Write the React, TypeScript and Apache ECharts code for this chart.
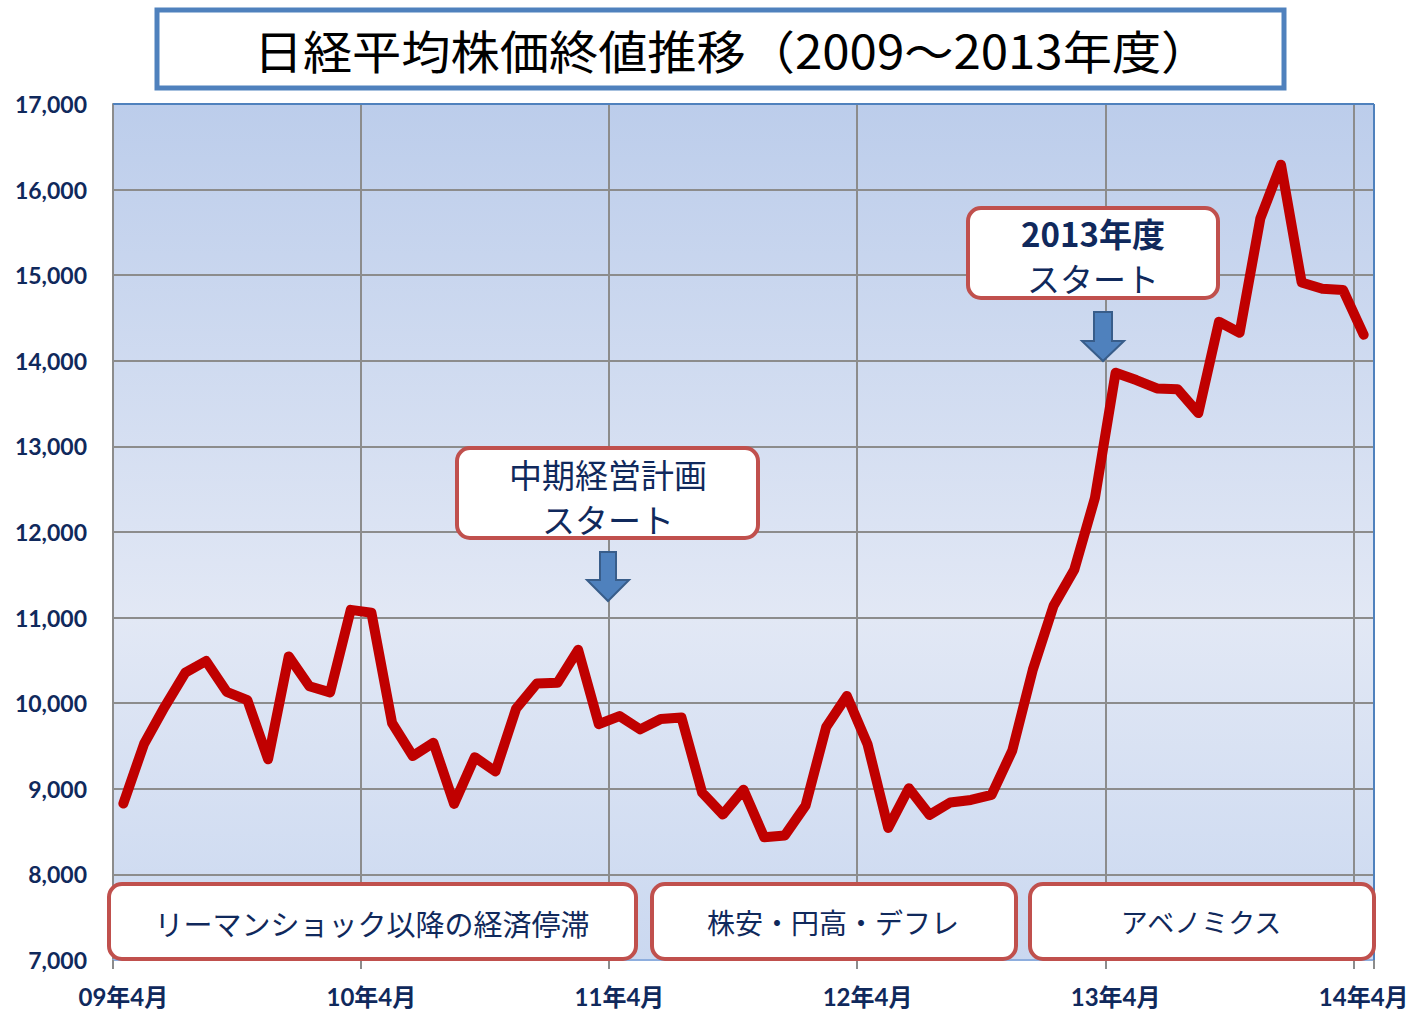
import React, { useEffect, useRef } from "react";
import * as echarts from "echarts";

// Month categories: Apr 2009 .. Apr 2014 (61 months)
const startYear = 2009;
const startMonth = 4;
const monthCount = 61;
const categories: string[] = [];
for (let i = 0; i < monthCount; i++) {
  const m0 = startMonth - 1 + i;
  const y = startYear + Math.floor(m0 / 12);
  const m = (m0 % 12) + 1;
  categories.push(String(y % 100).padStart(2, "0") + "年" + m + "月");
}

// Month-end closing values (yen)
const closeValues: number[] = [
  8828, 9523, 9958, 10357, 10493, 10133, 10035, 9346, 10546, 10198, 10126, 11090,
  11057, 9769, 9383, 9537, 8824, 9369, 9202, 9937, 10229, 10238, 10624, 9755,
  9850, 9694, 9816, 9833, 8955, 8700, 8988, 8435, 8455, 8803, 9723, 10084,
  9521, 8543, 9007, 8695, 8840, 8870, 8928, 9446, 10395, 11139, 11559, 12398,
  13861, 13775, 13677, 13668, 13389, 14456, 14328, 15662, 16291, 14915, 14841, 14828,
  14304,
];

const yMin = 7000;
const yMax = 17000;
const yStep = 1000;

const titleText = "日経平均株価終値推移（2009～2013年度）";
const note1Lines = ["中期経営計画", "スタート"];
const note2Lines = ["2013年度", "スタート"];
const periodLabels = ["リーマンショック以降の経済停滞", "株安・円高・デフレ", "アベノミクス"];

const NAVY = "#10295c";
const RED_BORDER = "#c0504d";
const CJK = "'Noto Sans CJK JP', 'Noto Sans', sans-serif";
const NUMFONT = "Lato, 'Noto Sans CJK JP', sans-serif";

function boxRect(x: number, y: number, w: number, h: number) {
  return {
    type: "rect",
    z: 10,
    shape: { x, y, width: w, height: h, r: 13 },
    style: { fill: "#ffffff", stroke: RED_BORDER, lineWidth: 4 },
  };
}

function label(
  text: string,
  x: number,
  y: number,
  size: number,
  weight: string = "normal",
  color: string = NAVY,
  font: string = CJK,
  scaleX: number = 1
) {
  return {
    type: "text",
    z: 11,
    x,
    y,
    scaleX,
    style: {
      text,
      fill: color,
      fontSize: size,
      fontWeight: weight,
      fontFamily: font,
      lineHeight: size,
      align: "center",
      verticalAlign: "middle",
    },
  };
}

function arrow(cx: number, top: number, headTop: number, tip: number, shaftHalf: number, headHalf: number) {
  return {
    type: "polygon",
    z: 10,
    shape: {
      points: [
        [cx - shaftHalf, top],
        [cx + shaftHalf, top],
        [cx + shaftHalf, headTop],
        [cx + headHalf, headTop],
        [cx, tip],
        [cx - headHalf, headTop],
        [cx - shaftHalf, headTop],
      ],
    },
    style: { fill: "#4f81bd", stroke: "#385d8a", lineWidth: 2 },
  };
}

export default function App() {
  const ref = useRef<HTMLDivElement>(null);

  useEffect(() => {
    document.body.style.margin = "0";
    if (!ref.current) return;
    const chart = echarts.init(ref.current, undefined, { renderer: "svg" });
    chart.setOption({
      animation: false,
      backgroundColor: "#ffffff",
      grid: {
        left: 113,
        top: 104,
        width: 1261,
        height: 856,
        show: true,
        borderWidth: 0,
        backgroundColor: {
          type: "linear",
          x: 0,
          y: 0,
          x2: 0,
          y2: 1,
          colorStops: [
            { offset: 0, color: "#bccdeb" },
            { offset: 0.6, color: "#e2e8f5" },
            { offset: 1, color: "#cad8f0" },
          ],
        },
      },
      xAxis: {
        type: "category",
        data: categories,
        boundaryGap: true,
        axisLine: { show: true, lineStyle: { color: "#8eaede", width: 2 } },
        axisTick: { show: true, interval: 11, length: 9, lineStyle: { color: "#8c8c8c", width: 2 } },
        axisLabel: {
          interval: 11,
          margin: 24,
          color: NAVY,
          fontSize: 24,
          fontWeight: "bold",
          fontFamily: NUMFONT,
        },
        splitLine: { show: true, interval: 11, lineStyle: { color: "#8c8c8c", width: 2 } },
      },
      yAxis: {
        type: "value",
        min: yMin,
        max: yMax,
        interval: yStep,
        axisLine: { show: true, lineStyle: { color: "#8c8c8c", width: 2 } },
        axisTick: { show: false },
        axisLabel: {
          margin: 26,
          color: NAVY,
          fontSize: 23,
          fontWeight: "bold",
          fontFamily: NUMFONT,
          formatter: (v: number) => v.toLocaleString("en-US"),
        },
        splitLine: { show: true, showMinLine: false, showMaxLine: false, lineStyle: { color: "#8c8c8c", width: 2 } },
      },
      series: [
        {
          type: "line",
          data: closeValues,
          symbol: "none",
          z: 5,
          lineStyle: { color: "#c00000", width: 10, cap: "round", join: "round" },
        },
      ],
      graphic: [
        // plot frame (top & right) in blue
        { type: "line", z: 4, shape: { x1: 113, y1: 104, x2: 1374, y2: 104 }, style: { stroke: "#4f81bd", lineWidth: 2 } },
        { type: "line", z: 4, shape: { x1: 1374, y1: 104, x2: 1374, y2: 960 }, style: { stroke: "#4f81bd", lineWidth: 2 } },
        // title
        {
          type: "rect",
          z: 10,
          shape: { x: 157, y: 10, width: 1127, height: 78 },
          style: { fill: "#ffffff", stroke: "#4f81bd", lineWidth: 5 },
        },
        label(titleText, 732, 49, 46, "normal", "#000000", CJK, 1.07),
        // note 1
        boxRect(457, 448, 301, 90),
        label(note1Lines[0], 608, 474, 33),
        label(note1Lines[1], 608, 519, 33),
        arrow(608, 552, 580, 601, 8, 21),
        // note 2
        boxRect(968, 208, 250, 90),
        label(note2Lines[0], 1093, 233, 33, "bold"),
        label(note2Lines[1], 1093, 278, 33),
        arrow(1103, 312, 341, 361, 9, 21),
        // period boxes
        boxRect(109, 884, 527, 75),
        label(periodLabels[0], 372, 923, 29),
        boxRect(652, 884, 364, 75),
        label(periodLabels[1], 833, 922, 28),
        boxRect(1030, 884, 344, 75),
        label(periodLabels[2], 1201, 921, 27),
      ],
    });
    return () => chart.dispose();
  }, []);

  return <div ref={ref} style={{ width: 1415, height: 1014 }} />;
}
